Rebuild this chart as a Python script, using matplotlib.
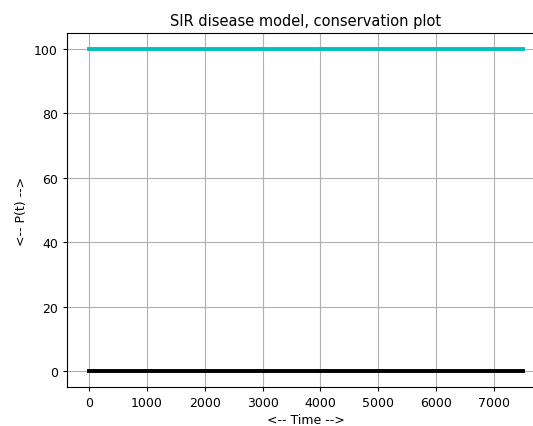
import numpy as np
import matplotlib
matplotlib.use("Agg")
import matplotlib.pyplot as plt

plt.rcParams["font.size"] = 9
plt.rcParams["xtick.major.size"] = 3.1
plt.rcParams["ytick.major.size"] = 3.1

# Datos
t = np.array([0.0, 7500.0])          # tiempo
P_total = np.array([100.0, 100.0])   # S + I + R
P_error = np.array([0.0, 0.0])       # desviación

fig = plt.figure(figsize=(5.33, 4.27), dpi=100)
ax = fig.add_axes([67 / 533, 39 / 427, 478 / 533, 354 / 427])

ax.plot(t, P_total, color="c", lw=2.8)
ax.plot(t, P_error, color="k", lw=2.8)

ax.set_xlabel("<-- Time -->", labelpad=2.5)
ax.set_ylabel("<-- P(t) -->")
ax.set_title("SIR disease model, conservation plot", fontsize=10.5)
ax.grid()

fig.savefig("out.png", dpi=100)
